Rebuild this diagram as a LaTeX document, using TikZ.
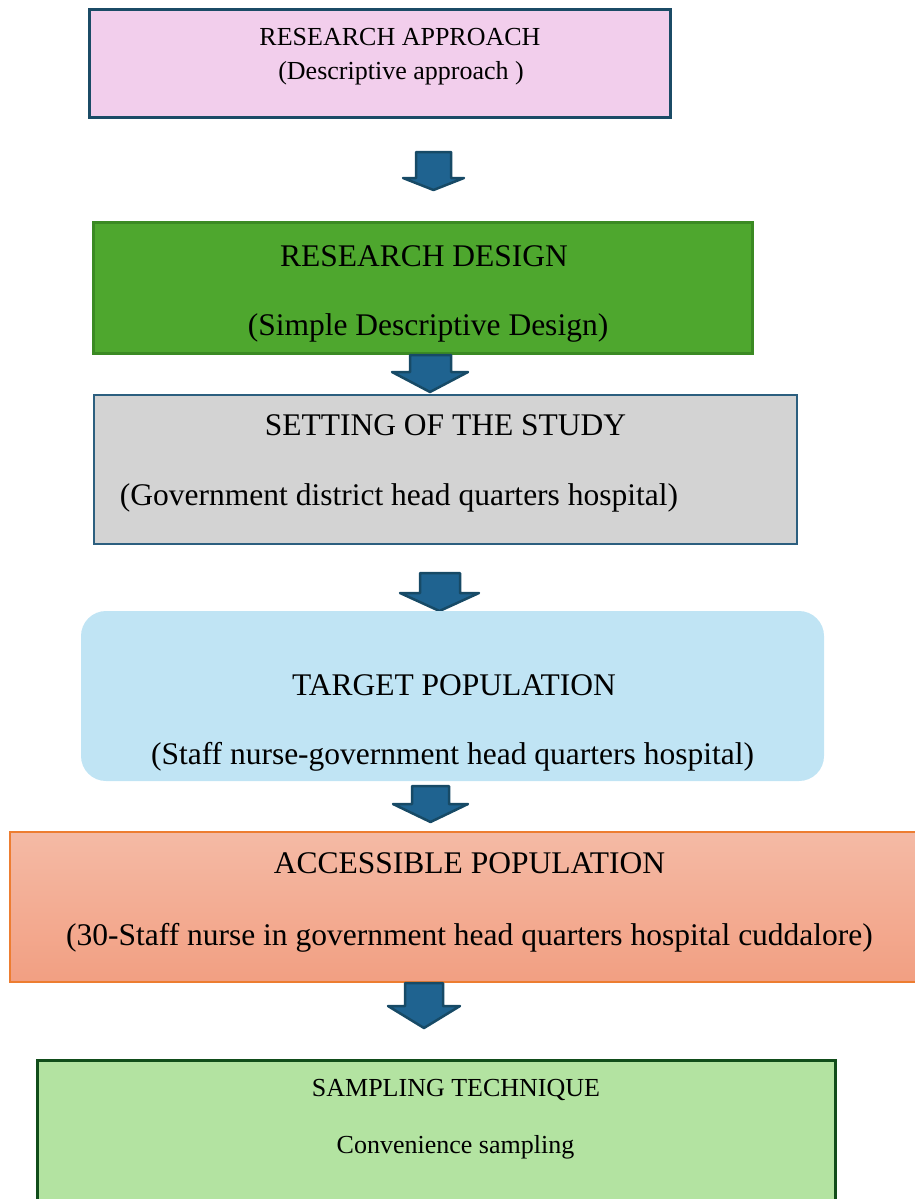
\documentclass[tikz,border=0pt]{standalone}
\usepackage{fontspec}
\setmainfont{Liberation Serif}
\definecolor{pinkfill}{HTML}{F2CEEC}
\definecolor{tealborder}{HTML}{1B4B66}
\definecolor{greenfill}{HTML}{4EA72E}
\definecolor{greenborder}{HTML}{3B8A23}
\definecolor{grayfill}{HTML}{D3D3D3}
\definecolor{grayborder}{HTML}{2C5F7F}
\definecolor{bluefill}{HTML}{C0E4F4}
\definecolor{orangetop}{HTML}{F4BAA5}
\definecolor{orangebot}{HTML}{F29F82}
\definecolor{orangeborder}{HTML}{ED7D31}
\definecolor{lgreenfill}{HTML}{B3E3A1}
\definecolor{dgreenborder}{HTML}{114D1A}
\definecolor{arrowfill}{HTML}{1F6390}
\definecolor{arrowborder}{HTML}{174A66}
\tikzset{
  big/.style={font=\fontsize{31.5}{36}\selectfont, anchor=base, inner sep=0pt},
  small/.style={font=\fontsize{26}{30}\selectfont, anchor=base, inner sep=0pt},
  blockarrow/.style={fill=arrowfill, draw=arrowborder, line width=2.5pt, line join=round},
}
\newcommand{\downarrowblock}[7]{% xl xr yt ys hl hr yb
  \path[blockarrow] (#1,#3) -- (#2,#3) -- (#2,#4) -- (#6,#4) -- ({(#5+#6)/2},#7) -- (#5,#4) -- (#1,#4) -- cycle;}
\begin{document}
\begin{tikzpicture}[x=1pt,y=-1pt]
\useasboundingbox (0,0) rectangle (915,1199);
\clip (0,0) rectangle (915,1199);
% Box 1
\draw[fill=pinkfill, draw=tealborder, line width=3pt] (89,10) rectangle (670,117);
\node[small] (t1) at (400,45.5) {RESEARCH APPROACH};
\node[small] (s1) at (401,80) {(Descriptive approach )};
\downarrowblock{416}{451}{152}{178}{403}{464}{190}
% Box 2
\draw[fill=greenfill, draw=greenborder, line width=3pt] (93,222) rectangle (752,353);
\node[big] (t2) at (424,266) {RESEARCH DESIGN};
\node[big] (s2) at (428,335) {(Simple Descriptive Design)};
\downarrowblock{410}{451}{355}{372}{392}{468}{392}
% Box 3
\draw[fill=grayfill, draw=grayborder, line width=2pt] (94,395) rectangle (797,544);
\node[big] (t3) at (445.5,435) {SETTING OF THE STUDY};
\node[big] (s3) at (399,505) {(Government district head quarters hospital)};
\downarrowblock{420}{460}{573}{593}{400}{479}{611}
% Box 4
\fill[bluefill, rounded corners=25pt] (81,611) rectangle (824,781);
\node[big] (t4) at (454,695) {TARGET POPULATION};
\node[big] (s4) at (452.5,764) {(Staff nurse-government head quarters hospital)};
\downarrowblock{412}{449}{786}{804}{393}{468}{822}
% Box 5
\shade[top color=orangetop, bottom color=orangebot] (10,832) rectangle (930,982);
\draw[draw=orangeborder, line width=2pt] (10,832) rectangle (930,982);
\node[big] (t5) at (469.5,873) {ACCESSIBLE POPULATION};
\node[big] (s5) at (469.5,945) {(30-Staff nurse in government head quarters hospital cuddalore)};
\downarrowblock{405}{443}{983}{1006}{388}{460}{1028}
% Box 6
\draw[fill=lgreenfill, draw=dgreenborder, line width=3pt] (37,1060) rectangle (835,1230);
\node[small] (t6) at (456,1096) {SAMPLING TECHNIQUE};
\node[small] (s6) at (455.5,1153) {Convenience sampling};
\end{tikzpicture}
\end{document}
